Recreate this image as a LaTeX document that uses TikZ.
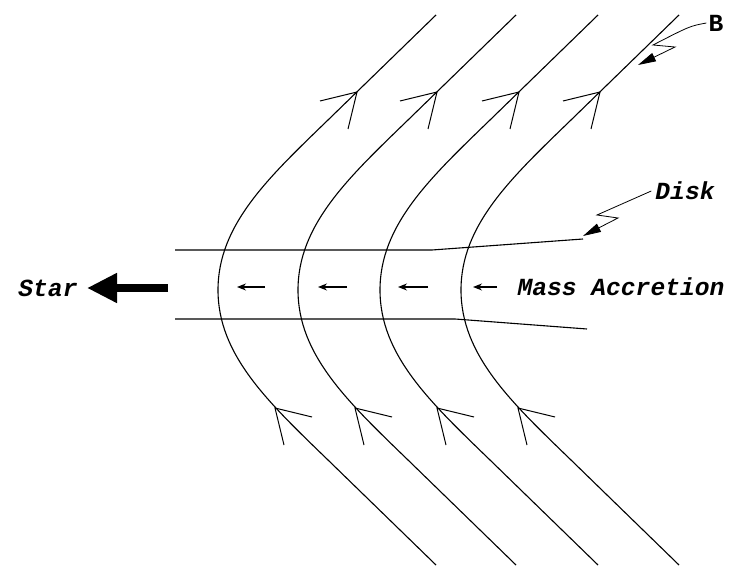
\documentclass[tikz,border=0pt]{standalone}
\usepackage{fontspec}
\newfontfamily\lblfont{Liberation Mono}
\usepackage{tikz}
\usetikzlibrary{arrows.meta}
\tikzset{
  fline/.style={black, line width=1.1pt},
  barb/.style={black, line width=1pt, line join=miter},
  dline/.style={black, line width=1.1pt},
  flow/.style={black, line width=1.2pt, -{Stealth[length=9pt,width=7pt]}},
  bigarr/.style={black, line width=8pt, -{Triangle[length=30pt,width=28pt]}},
  lead/.style={black, line width=0.8pt, -{Triangle[length=18pt,width=9pt]}},
  lbl/.style={font=\lblfont\bfseries\itshape\fontsize{24.6}{25}\selectfont, inner sep=0pt},
}
\begin{document}
\begin{tikzpicture}[x=1pt, y=-1pt]
  \useasboundingbox (0,0) rectangle (737,569);
  % field lines B, bent round the disk
  \foreach \v in {218,298,380,461} {
    \draw[fline] (\v+218,15) -- (\v+110,120) .. controls (\v+50,178) and (\v,225) .. (\v,290)
         .. controls (\v,355) and (\v+50,402) .. (\v+110,460) -- (\v+218,565);
    \draw[barb] (\v+102,101) -- (\v+139,92) -- (\v+130,129);
    \draw[barb] (\v+94,417) -- (\v+57,408) -- (\v+66,445);
  }
  % disk
  \draw[dline] (175,250) -- (432,250) -- (583,239);
  \draw[dline] (175,319) -- (455,319) -- (587,329);
  % accretion flow
  \foreach \a/\b in {265/237, 347/318, 428/398, 497/473}
    \draw[flow] (\a,287) -- (\b,287);
  % labels
  \node[lbl] (star) at (48,288) {Star};
  \node[lbl] (mass) at (621,287) {Mass Accretion};
  \node[lbl] (disk) at (685,191) {Disk};
  \node[lbl, font=\lblfont\bfseries\fontsize{24.6}{25}\selectfont] (bfield) at (716,23) {B};
  \coordinate (bigtail) at (168,288);
  \coordinate (bigtip) at (87,288);
  \draw[bigarr] (bigtail) -- (bigtip);
  % leaders
  \coordinate (dtip) at (583,236);
  \coordinate (btip) at (638,65);
  \draw[lead] ([xshift=-4pt]disk.west) -- (597,215) -- (618,218) -- (dtip);
  \draw[lead] ([xshift=-2pt]bfield.west) .. controls (690,26) .. (653,45) -- (675,47) -- (btip);
\end{tikzpicture}
\end{document}
